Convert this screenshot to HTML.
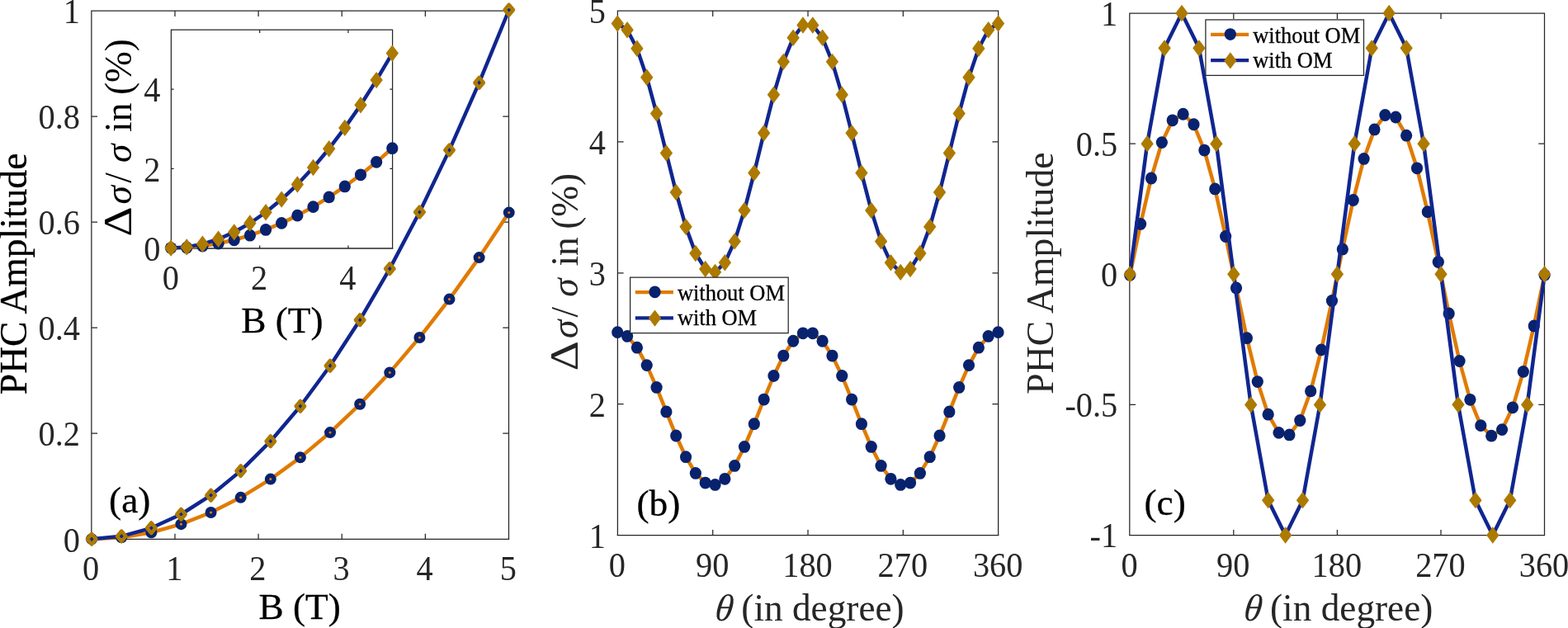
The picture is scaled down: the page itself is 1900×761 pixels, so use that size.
<!DOCTYPE html>
<html><head><meta charset="utf-8"><title>PHC Amplitude</title>
<style>
html,body{margin:0;padding:0;background:#fff;}
body{width:1900px;height:761px;overflow:hidden;}
svg{display:block;font-family:"Liberation Serif","DejaVu Serif",serif;}
</style></head><body>
<svg width="1900" height="761" viewBox="0 0 1900 761">
<rect width="1900" height="761" fill="#fff"/>
<path d="M110.85 12.38V654.02M616.5 12.38V654.02M110.22 13H617.12M211.98 653.4v-6.6M211.98 13v7M313.11 653.4v-6.6M313.11 13v7M414.24 653.4v-6.6M414.24 13v7M515.37 653.4v-6.6M515.37 13v7M110.85 525.24h7.2M616.5 525.24h-7.2M110.85 397.18h7.2M616.5 397.18h-7.2M110.85 269.12h7.2M616.5 269.12h-7.2M110.85 141.06h7.2M616.5 141.06h-7.2" fill="none" stroke="#262626" stroke-width="1.25"/>
<path d="M110.22 653.4H617.12" fill="none" stroke="#262626" stroke-width="1.25"/>
<polyline points="111.1,653.3 147.22,651.28 183.34,645.22 219.45,635.13 255.57,621 291.69,602.83 327.81,580.62 363.92,554.37 400.04,524.09 436.16,489.77 472.28,451.41 508.4,409.01 544.51,362.58 580.63,312.11 616.75,257.59" fill="none" stroke="#E07B00" stroke-width="4.5" stroke-linejoin="round" stroke-linecap="round"/>
<g fill="none" stroke="#08226E" stroke-width="5.4"><circle cx="111.1" cy="653.3" r="4.3"/><circle cx="147.22" cy="651.28" r="4.3"/><circle cx="183.34" cy="645.22" r="4.3"/><circle cx="219.45" cy="635.13" r="4.3"/><circle cx="255.57" cy="621" r="4.3"/><circle cx="291.69" cy="602.83" r="4.3"/><circle cx="327.81" cy="580.62" r="4.3"/><circle cx="363.92" cy="554.37" r="4.3"/><circle cx="400.04" cy="524.09" r="4.3"/><circle cx="436.16" cy="489.77" r="4.3"/><circle cx="472.28" cy="451.41" r="4.3"/><circle cx="508.4" cy="409.01" r="4.3"/><circle cx="544.51" cy="362.58" r="4.3"/><circle cx="580.63" cy="312.11" r="4.3"/><circle cx="616.75" cy="257.59" r="4.3"/></g>
<polyline points="111.1,653.3 147.22,649.82 183.34,639.8 219.45,623.26 255.57,600.17 291.69,570.63 327.81,534.69 363.92,492.22 400.04,443.22 436.16,387.69 472.28,325.62 508.4,257.01 544.51,181.88 580.63,100.2 616.75,12" fill="none" stroke="#10268F" stroke-width="4.5" stroke-linejoin="round" stroke-linecap="round"/>
<g fill="none" stroke="#AC7A00" stroke-width="4.5" stroke-linejoin="round"><path d="M111.1 647l5.25 6.3l-5.25 6.3l-5.25 -6.3z"/><path d="M147.22 643.52l5.25 6.3l-5.25 6.3l-5.25 -6.3z"/><path d="M183.34 633.5l5.25 6.3l-5.25 6.3l-5.25 -6.3z"/><path d="M219.45 616.96l5.25 6.3l-5.25 6.3l-5.25 -6.3z"/><path d="M255.57 593.87l5.25 6.3l-5.25 6.3l-5.25 -6.3z"/><path d="M291.69 564.33l5.25 6.3l-5.25 6.3l-5.25 -6.3z"/><path d="M327.81 528.39l5.25 6.3l-5.25 6.3l-5.25 -6.3z"/><path d="M363.92 485.92l5.25 6.3l-5.25 6.3l-5.25 -6.3z"/><path d="M400.04 436.92l5.25 6.3l-5.25 6.3l-5.25 -6.3z"/><path d="M436.16 381.39l5.25 6.3l-5.25 6.3l-5.25 -6.3z"/><path d="M472.28 319.32l5.25 6.3l-5.25 6.3l-5.25 -6.3z"/><path d="M508.4 250.71l5.25 6.3l-5.25 6.3l-5.25 -6.3z"/><path d="M544.51 175.58l5.25 6.3l-5.25 6.3l-5.25 -6.3z"/><path d="M580.63 93.9l5.25 6.3l-5.25 6.3l-5.25 -6.3z"/><path d="M616.75 5.7l5.25 6.3l-5.25 6.3l-5.25 -6.3z"/></g>
<text transform="translate(110.15 703.4) scale(0.96 1)" font-size="42" text-anchor="middle" fill="#262626">0</text>
<text transform="translate(211.28 703.4) scale(0.96 1)" font-size="42" text-anchor="middle" fill="#262626">1</text>
<text transform="translate(312.41 703.4) scale(0.96 1)" font-size="42" text-anchor="middle" fill="#262626">2</text>
<text transform="translate(413.54 703.4) scale(0.96 1)" font-size="42" text-anchor="middle" fill="#262626">3</text>
<text transform="translate(514.67 703.4) scale(0.96 1)" font-size="42" text-anchor="middle" fill="#262626">4</text>
<text transform="translate(615.8 703.4) scale(0.96 1)" font-size="42" text-anchor="middle" fill="#262626">5</text>
<text transform="translate(97 668.5) scale(0.96 1)" font-size="42" text-anchor="end" fill="#262626">0</text>
<text transform="translate(97 540.44) scale(0.96 1)" font-size="42" text-anchor="end" fill="#262626">0.2</text>
<text transform="translate(97 412.38) scale(0.96 1)" font-size="42" text-anchor="end" fill="#262626">0.4</text>
<text transform="translate(97 284.32) scale(0.96 1)" font-size="42" text-anchor="end" fill="#262626">0.6</text>
<text transform="translate(97 156.26) scale(0.96 1)" font-size="42" text-anchor="end" fill="#262626">0.8</text>
<text transform="translate(97 28.2) scale(0.96 1)" font-size="42" text-anchor="end" fill="#262626">1</text>
<text x="363.2" y="750.4" font-size="45.3" text-anchor="middle" fill="#000" stroke="#000" stroke-width="0.3">B (T)</text>
<text transform="translate(31.5 331.9) rotate(-90)" font-size="45.6" text-anchor="middle" fill="#000" stroke="#000" stroke-width="0.3">PHC Amplitude</text>
<text x="132.1" y="621.3" font-size="45.3" text-anchor="start" fill="#000" stroke="#000" stroke-width="0.3">(a)</text>
<path d="M207.4 35.48V301.62M475.6 35.48V301.62M206.78 36.1H476.23M314.68 301v-3.4M314.68 36.1v3.8M421.96 301v-3.4M421.96 36.1v3.8M207.4 204.47h3.2M475.6 204.47h-3.2M207.4 108.15h3.2M475.6 108.15h-3.2" fill="none" stroke="#262626" stroke-width="1.25"/>
<path d="M206.78 301H476.23" fill="none" stroke="#262626" stroke-width="1.6"/>
<polyline points="207.1,300.6 226.26,299.98 245.41,298.13 264.57,295.05 283.73,290.73 302.89,285.18 322.04,278.4 341.2,270.38 360.36,261.13 379.51,250.64 398.67,238.92 417.83,225.97 436.99,211.78 456.14,196.36 475.3,179.71" fill="none" stroke="#E07B00" stroke-width="4.5" stroke-linejoin="round" stroke-linecap="round"/>
<g fill="#08226E"><ellipse cx="207.1" cy="300.6" rx="7.1" ry="7.4"/><ellipse cx="226.26" cy="299.98" rx="7.1" ry="7.4"/><ellipse cx="245.41" cy="298.13" rx="7.1" ry="7.4"/><ellipse cx="264.57" cy="295.05" rx="7.1" ry="7.4"/><ellipse cx="283.73" cy="290.73" rx="7.1" ry="7.4"/><ellipse cx="302.89" cy="285.18" rx="7.1" ry="7.4"/><ellipse cx="322.04" cy="278.4" rx="7.1" ry="7.4"/><ellipse cx="341.2" cy="270.38" rx="7.1" ry="7.4"/><ellipse cx="360.36" cy="261.13" rx="7.1" ry="7.4"/><ellipse cx="379.51" cy="250.64" rx="7.1" ry="7.4"/><ellipse cx="398.67" cy="238.92" rx="7.1" ry="7.4"/><ellipse cx="417.83" cy="225.97" rx="7.1" ry="7.4"/><ellipse cx="436.99" cy="211.78" rx="7.1" ry="7.4"/><ellipse cx="456.14" cy="196.36" rx="7.1" ry="7.4"/><ellipse cx="475.3" cy="179.71" rx="7.1" ry="7.4"/></g>
<polyline points="207.1,300.6 226.26,299.4 245.41,295.78 264.57,289.76 283.73,281.33 302.89,270.5 322.04,257.25 341.2,241.6 360.36,223.54 379.51,203.07 398.67,180.19 417.83,154.9 436.99,127.21 456.14,97.11 475.3,64.6" fill="none" stroke="#10268F" stroke-width="4.5" stroke-linejoin="round" stroke-linecap="round"/>
<g fill="#AC7A00"><path d="M207.1 290.4l7.7 10.2l-7.7 10.2l-7.7 -10.2z"/><path d="M226.26 289.2l7.7 10.2l-7.7 10.2l-7.7 -10.2z"/><path d="M245.41 285.58l7.7 10.2l-7.7 10.2l-7.7 -10.2z"/><path d="M264.57 279.56l7.7 10.2l-7.7 10.2l-7.7 -10.2z"/><path d="M283.73 271.13l7.7 10.2l-7.7 10.2l-7.7 -10.2z"/><path d="M302.89 260.3l7.7 10.2l-7.7 10.2l-7.7 -10.2z"/><path d="M322.04 247.05l7.7 10.2l-7.7 10.2l-7.7 -10.2z"/><path d="M341.2 231.4l7.7 10.2l-7.7 10.2l-7.7 -10.2z"/><path d="M360.36 213.34l7.7 10.2l-7.7 10.2l-7.7 -10.2z"/><path d="M379.51 192.87l7.7 10.2l-7.7 10.2l-7.7 -10.2z"/><path d="M398.67 169.99l7.7 10.2l-7.7 10.2l-7.7 -10.2z"/><path d="M417.83 144.7l7.7 10.2l-7.7 10.2l-7.7 -10.2z"/><path d="M436.99 117.01l7.7 10.2l-7.7 10.2l-7.7 -10.2z"/><path d="M456.14 86.91l7.7 10.2l-7.7 10.2l-7.7 -10.2z"/><path d="M475.3 54.4l7.7 10.2l-7.7 10.2l-7.7 -10.2z"/></g>
<text transform="translate(206.8 351.3) scale(0.96 1)" font-size="42" text-anchor="middle" fill="#262626">0</text>
<text transform="translate(194.5 316) scale(0.96 1)" font-size="42" text-anchor="end" fill="#262626">0</text>
<text transform="translate(314.08 351.3) scale(0.96 1)" font-size="42" text-anchor="middle" fill="#262626">2</text>
<text transform="translate(194.5 219.67) scale(0.96 1)" font-size="42" text-anchor="end" fill="#262626">2</text>
<text transform="translate(421.36 351.3) scale(0.96 1)" font-size="42" text-anchor="middle" fill="#262626">4</text>
<text transform="translate(194.5 123.35) scale(0.96 1)" font-size="42" text-anchor="end" fill="#262626">4</text>
<text x="341.9" y="403.3" font-size="45.3" text-anchor="middle" fill="#000" stroke="#000" stroke-width="0.3">B (T)</text>
<g transform="translate(159.2 284.9) rotate(-90) scale(1 1.04)" font-size="45.3" fill="#000"><text transform="translate(-1.9 0) scale(1.227 1)" font-size="46">Δ</text><text x="37.5" y="0" font-style="italic">σ</text><text x="63.2" y="0">/</text><text x="87.85" y="0" font-style="italic">σ</text><text x="125" y="0">in</text><text x="237.7" y="0" text-anchor="end">(%)</text></g>
<path d="M748.4 12.38V649.12M1209.65 12.38V649.12M747.77 13H1210.28M863.71 648.5v-6.6M863.71 13v7M979.02 648.5v-6.6M979.02 13v7M1094.34 648.5v-6.6M1094.34 13v7M748.4 489.62h7.2M1209.65 489.62h-7.2M748.4 330.75h7.2M1209.65 330.75h-7.2M748.4 171.88h7.2M1209.65 171.88h-7.2" fill="none" stroke="#262626" stroke-width="1.25"/>
<path d="M747.77 648.5H1210.28" fill="none" stroke="#262626" stroke-width="1.25"/>
<polyline points="748.25,402.64 760.08,407.4 771.9,421.2 783.73,442.61 795.56,469.44 807.38,498.91 819.21,528 831.04,553.71 842.87,573.4 854.69,585.04 866.52,587.43 878.35,580.32 890.17,564.45 902,541.46 913.83,513.69 925.65,484.03 937.48,455.51 949.31,431.07 961.13,413.24 972.96,403.84 984.79,403.84 996.62,413.24 1008.44,431.07 1020.27,455.51 1032.1,484.03 1043.92,513.69 1055.75,541.46 1067.58,564.45 1079.4,580.32 1091.23,587.43 1103.06,585.04 1114.88,573.4 1126.71,553.71 1138.54,528 1150.37,498.91 1162.19,469.44 1174.02,442.61 1185.85,421.2 1197.67,407.4 1209.5,402.64" fill="none" stroke="#E07B00" stroke-width="4.5" stroke-linejoin="round" stroke-linecap="round"/>
<g fill="#08226E"><ellipse cx="748.25" cy="402.64" rx="7.1" ry="7.4"/><ellipse cx="760.08" cy="407.4" rx="7.1" ry="7.4"/><ellipse cx="771.9" cy="421.2" rx="7.1" ry="7.4"/><ellipse cx="783.73" cy="442.61" rx="7.1" ry="7.4"/><ellipse cx="795.56" cy="469.44" rx="7.1" ry="7.4"/><ellipse cx="807.38" cy="498.91" rx="7.1" ry="7.4"/><ellipse cx="819.21" cy="528" rx="7.1" ry="7.4"/><ellipse cx="831.04" cy="553.71" rx="7.1" ry="7.4"/><ellipse cx="842.87" cy="573.4" rx="7.1" ry="7.4"/><ellipse cx="854.69" cy="585.04" rx="7.1" ry="7.4"/><ellipse cx="866.52" cy="587.43" rx="7.1" ry="7.4"/><ellipse cx="878.35" cy="580.32" rx="7.1" ry="7.4"/><ellipse cx="890.17" cy="564.45" rx="7.1" ry="7.4"/><ellipse cx="902" cy="541.46" rx="7.1" ry="7.4"/><ellipse cx="913.83" cy="513.69" rx="7.1" ry="7.4"/><ellipse cx="925.65" cy="484.03" rx="7.1" ry="7.4"/><ellipse cx="937.48" cy="455.51" rx="7.1" ry="7.4"/><ellipse cx="949.31" cy="431.07" rx="7.1" ry="7.4"/><ellipse cx="961.13" cy="413.24" rx="7.1" ry="7.4"/><ellipse cx="972.96" cy="403.84" rx="7.1" ry="7.4"/><ellipse cx="984.79" cy="403.84" rx="7.1" ry="7.4"/><ellipse cx="996.62" cy="413.24" rx="7.1" ry="7.4"/><ellipse cx="1008.44" cy="431.07" rx="7.1" ry="7.4"/><ellipse cx="1020.27" cy="455.51" rx="7.1" ry="7.4"/><ellipse cx="1032.1" cy="484.03" rx="7.1" ry="7.4"/><ellipse cx="1043.92" cy="513.69" rx="7.1" ry="7.4"/><ellipse cx="1055.75" cy="541.46" rx="7.1" ry="7.4"/><ellipse cx="1067.58" cy="564.45" rx="7.1" ry="7.4"/><ellipse cx="1079.4" cy="580.32" rx="7.1" ry="7.4"/><ellipse cx="1091.23" cy="587.43" rx="7.1" ry="7.4"/><ellipse cx="1103.06" cy="585.04" rx="7.1" ry="7.4"/><ellipse cx="1114.88" cy="573.4" rx="7.1" ry="7.4"/><ellipse cx="1126.71" cy="553.71" rx="7.1" ry="7.4"/><ellipse cx="1138.54" cy="528" rx="7.1" ry="7.4"/><ellipse cx="1150.37" cy="498.91" rx="7.1" ry="7.4"/><ellipse cx="1162.19" cy="469.44" rx="7.1" ry="7.4"/><ellipse cx="1174.02" cy="442.61" rx="7.1" ry="7.4"/><ellipse cx="1185.85" cy="421.2" rx="7.1" ry="7.4"/><ellipse cx="1197.67" cy="407.4" rx="7.1" ry="7.4"/><ellipse cx="1209.5" cy="402.64" rx="7.1" ry="7.4"/></g>
<polyline points="748.25,28.49 760.08,36.25 771.9,58.76 783.73,93.68 795.56,137.43 807.38,185.5 819.21,232.94 831.04,274.87 842.87,306.98 854.69,325.96 866.52,329.86 878.35,318.27 890.17,292.39 902,254.88 913.83,209.61 925.65,161.23 937.48,114.72 949.31,74.86 961.13,45.78 972.96,30.44 984.79,30.44 996.62,45.78 1008.44,74.86 1020.27,114.72 1032.1,161.23 1043.92,209.61 1055.75,254.88 1067.58,292.39 1079.4,318.27 1091.23,329.86 1103.06,325.96 1114.88,306.98 1126.71,274.87 1138.54,232.94 1150.37,185.5 1162.19,137.43 1174.02,93.68 1185.85,58.76 1197.67,36.25 1209.5,28.49" fill="none" stroke="#10268F" stroke-width="4.5" stroke-linejoin="round" stroke-linecap="round"/>
<g fill="#AC7A00"><path d="M748.25 18.29l7.7 10.2l-7.7 10.2l-7.7 -10.2z"/><path d="M760.08 26.05l7.7 10.2l-7.7 10.2l-7.7 -10.2z"/><path d="M771.9 48.56l7.7 10.2l-7.7 10.2l-7.7 -10.2z"/><path d="M783.73 83.48l7.7 10.2l-7.7 10.2l-7.7 -10.2z"/><path d="M795.56 127.23l7.7 10.2l-7.7 10.2l-7.7 -10.2z"/><path d="M807.38 175.3l7.7 10.2l-7.7 10.2l-7.7 -10.2z"/><path d="M819.21 222.74l7.7 10.2l-7.7 10.2l-7.7 -10.2z"/><path d="M831.04 264.67l7.7 10.2l-7.7 10.2l-7.7 -10.2z"/><path d="M842.87 296.78l7.7 10.2l-7.7 10.2l-7.7 -10.2z"/><path d="M854.69 315.76l7.7 10.2l-7.7 10.2l-7.7 -10.2z"/><path d="M866.52 319.66l7.7 10.2l-7.7 10.2l-7.7 -10.2z"/><path d="M878.35 308.07l7.7 10.2l-7.7 10.2l-7.7 -10.2z"/><path d="M890.17 282.19l7.7 10.2l-7.7 10.2l-7.7 -10.2z"/><path d="M902 244.68l7.7 10.2l-7.7 10.2l-7.7 -10.2z"/><path d="M913.83 199.41l7.7 10.2l-7.7 10.2l-7.7 -10.2z"/><path d="M925.65 151.03l7.7 10.2l-7.7 10.2l-7.7 -10.2z"/><path d="M937.48 104.52l7.7 10.2l-7.7 10.2l-7.7 -10.2z"/><path d="M949.31 64.66l7.7 10.2l-7.7 10.2l-7.7 -10.2z"/><path d="M961.13 35.58l7.7 10.2l-7.7 10.2l-7.7 -10.2z"/><path d="M972.96 20.24l7.7 10.2l-7.7 10.2l-7.7 -10.2z"/><path d="M984.79 20.24l7.7 10.2l-7.7 10.2l-7.7 -10.2z"/><path d="M996.62 35.58l7.7 10.2l-7.7 10.2l-7.7 -10.2z"/><path d="M1008.44 64.66l7.7 10.2l-7.7 10.2l-7.7 -10.2z"/><path d="M1020.27 104.52l7.7 10.2l-7.7 10.2l-7.7 -10.2z"/><path d="M1032.1 151.03l7.7 10.2l-7.7 10.2l-7.7 -10.2z"/><path d="M1043.92 199.41l7.7 10.2l-7.7 10.2l-7.7 -10.2z"/><path d="M1055.75 244.68l7.7 10.2l-7.7 10.2l-7.7 -10.2z"/><path d="M1067.58 282.19l7.7 10.2l-7.7 10.2l-7.7 -10.2z"/><path d="M1079.4 308.07l7.7 10.2l-7.7 10.2l-7.7 -10.2z"/><path d="M1091.23 319.66l7.7 10.2l-7.7 10.2l-7.7 -10.2z"/><path d="M1103.06 315.76l7.7 10.2l-7.7 10.2l-7.7 -10.2z"/><path d="M1114.88 296.78l7.7 10.2l-7.7 10.2l-7.7 -10.2z"/><path d="M1126.71 264.67l7.7 10.2l-7.7 10.2l-7.7 -10.2z"/><path d="M1138.54 222.74l7.7 10.2l-7.7 10.2l-7.7 -10.2z"/><path d="M1150.37 175.3l7.7 10.2l-7.7 10.2l-7.7 -10.2z"/><path d="M1162.19 127.23l7.7 10.2l-7.7 10.2l-7.7 -10.2z"/><path d="M1174.02 83.48l7.7 10.2l-7.7 10.2l-7.7 -10.2z"/><path d="M1185.85 48.56l7.7 10.2l-7.7 10.2l-7.7 -10.2z"/><path d="M1197.67 26.05l7.7 10.2l-7.7 10.2l-7.7 -10.2z"/><path d="M1209.5 18.29l7.7 10.2l-7.7 10.2l-7.7 -10.2z"/></g>
<text transform="translate(747.9 699.3) scale(0.96 1)" font-size="42" text-anchor="middle" fill="#262626">0</text>
<text transform="translate(863.21 699.3) scale(0.96 1)" font-size="42" text-anchor="middle" fill="#262626">90</text>
<text transform="translate(978.52 699.3) scale(0.96 1)" font-size="42" text-anchor="middle" fill="#262626">180</text>
<text transform="translate(1093.84 699.3) scale(0.96 1)" font-size="42" text-anchor="middle" fill="#262626">270</text>
<text transform="translate(1209.15 699.3) scale(0.96 1)" font-size="42" text-anchor="middle" fill="#262626">360</text>
<text transform="translate(734 663.7) scale(0.96 1)" font-size="42" text-anchor="end" fill="#262626">1</text>
<text transform="translate(734 504.82) scale(0.96 1)" font-size="42" text-anchor="end" fill="#262626">2</text>
<text transform="translate(734 345.95) scale(0.96 1)" font-size="42" text-anchor="end" fill="#262626">3</text>
<text transform="translate(734 187.07) scale(0.96 1)" font-size="42" text-anchor="end" fill="#262626">4</text>
<text transform="translate(734 28.2) scale(0.96 1)" font-size="42" text-anchor="end" fill="#262626">5</text>
<g transform="translate(0 752) scale(1 1.03) translate(0 -752)" font-size="45.3" fill="#262626"><text transform="translate(865.2 752) skewX(-7)" font-style="italic" font-size="44.5">θ</text><text x="1095.7" y="752" text-anchor="end">(in degree)</text></g>
<g transform="translate(699.6 447.6) rotate(-90) scale(1 1.04)" font-size="45.3" fill="#262626"><text transform="translate(-1.9 0) scale(1.227 1)" font-size="46">Δ</text><text x="37.5" y="0" font-style="italic">σ</text><text x="63.2" y="0">/</text><text x="87.85" y="0" font-style="italic">σ</text><text x="125" y="0">in</text><text x="237.7" y="0" text-anchor="end">(%)</text></g>
<text x="771.5" y="625.2" font-size="45.3" text-anchor="start" fill="#000" stroke="#000" stroke-width="0.3">(b)</text>
<rect x="763.6" y="336.15" width="191.6" height="67.45" fill="#fff" stroke="#262626" stroke-width="1.25"/>
<path d="M769.8 354.15h46.1" stroke="#E07B00" stroke-width="4.3"/>
<g fill="#08226E"><ellipse cx="793.5" cy="353.8" rx="7.1" ry="7.4"/></g>
<path d="M769.8 385.3h46.1" stroke="#10268F" stroke-width="4.3"/>
<g fill="#AC7A00"><path d="M793.5 375.4l7.7 10.2l-7.7 10.2l-7.7 -10.2z"/></g>
<text x="820.9" y="363.7" font-size="26.45" text-anchor="start" fill="#000" stroke="#000" stroke-width="0.3">without OM</text>
<text x="820.9" y="394.1" font-size="26.45" text-anchor="start" fill="#000" stroke="#000" stroke-width="0.3">with OM</text>
<path d="M1368.8 15.38V649.12M1871.5 15.38V649.12M1368.17 16H1872.12M1494.8 648.5v-6.6M1494.8 16v7M1620.4 648.5v-6.6M1620.4 16v7M1746 648.5v-6.6M1746 16v7M1368.8 490.38h7.2M1871.5 490.38h-7.2M1368.8 332.25h7.2M1871.5 332.25h-7.2M1368.8 174.12h7.2M1871.5 174.12h-7.2" fill="none" stroke="#262626" stroke-width="1.25"/>
<path d="M1368.17 648.5H1872.12" fill="none" stroke="#262626" stroke-width="1.25"/>
<polyline points="1369.2,333.2 1382.08,271.41 1394.96,215.98 1407.85,172.61 1420.73,145.78 1433.61,138.23 1446.49,150.75 1459.37,182.05 1472.26,228.91 1485.14,286.5 1498.02,348.9 1510.9,409.68 1523.78,462.59 1536.67,502.18 1549.55,524.38 1562.43,526.9 1575.31,509.49 1588.19,473.92 1601.08,423.88 1613.96,364.5 1626.84,301.9 1639.72,242.52 1652.61,192.47 1665.49,156.91 1678.37,139.5 1691.25,142.02 1704.13,164.21 1717.02,203.81 1729.9,256.72 1742.78,317.5 1755.66,379.9 1768.54,437.49 1781.43,484.34 1794.31,515.64 1807.19,528.17 1820.07,520.62 1832.95,493.78 1845.84,450.42 1858.72,394.99 1871.6,333.2" fill="none" stroke="#E07B00" stroke-width="4.5" stroke-linejoin="round" stroke-linecap="round"/>
<g fill="#08226E"><ellipse cx="1369.2" cy="333.2" rx="7.1" ry="7.4"/><ellipse cx="1382.08" cy="271.41" rx="7.1" ry="7.4"/><ellipse cx="1394.96" cy="215.98" rx="7.1" ry="7.4"/><ellipse cx="1407.85" cy="172.61" rx="7.1" ry="7.4"/><ellipse cx="1420.73" cy="145.78" rx="7.1" ry="7.4"/><ellipse cx="1433.61" cy="138.23" rx="7.1" ry="7.4"/><ellipse cx="1446.49" cy="150.75" rx="7.1" ry="7.4"/><ellipse cx="1459.37" cy="182.05" rx="7.1" ry="7.4"/><ellipse cx="1472.26" cy="228.91" rx="7.1" ry="7.4"/><ellipse cx="1485.14" cy="286.5" rx="7.1" ry="7.4"/><ellipse cx="1498.02" cy="348.9" rx="7.1" ry="7.4"/><ellipse cx="1510.9" cy="409.68" rx="7.1" ry="7.4"/><ellipse cx="1523.78" cy="462.59" rx="7.1" ry="7.4"/><ellipse cx="1536.67" cy="502.18" rx="7.1" ry="7.4"/><ellipse cx="1549.55" cy="524.38" rx="7.1" ry="7.4"/><ellipse cx="1562.43" cy="526.9" rx="7.1" ry="7.4"/><ellipse cx="1575.31" cy="509.49" rx="7.1" ry="7.4"/><ellipse cx="1588.19" cy="473.92" rx="7.1" ry="7.4"/><ellipse cx="1601.08" cy="423.88" rx="7.1" ry="7.4"/><ellipse cx="1613.96" cy="364.5" rx="7.1" ry="7.4"/><ellipse cx="1626.84" cy="301.9" rx="7.1" ry="7.4"/><ellipse cx="1639.72" cy="242.52" rx="7.1" ry="7.4"/><ellipse cx="1652.61" cy="192.47" rx="7.1" ry="7.4"/><ellipse cx="1665.49" cy="156.91" rx="7.1" ry="7.4"/><ellipse cx="1678.37" cy="139.5" rx="7.1" ry="7.4"/><ellipse cx="1691.25" cy="142.02" rx="7.1" ry="7.4"/><ellipse cx="1704.13" cy="164.21" rx="7.1" ry="7.4"/><ellipse cx="1717.02" cy="203.81" rx="7.1" ry="7.4"/><ellipse cx="1729.9" cy="256.72" rx="7.1" ry="7.4"/><ellipse cx="1742.78" cy="317.5" rx="7.1" ry="7.4"/><ellipse cx="1755.66" cy="379.9" rx="7.1" ry="7.4"/><ellipse cx="1768.54" cy="437.49" rx="7.1" ry="7.4"/><ellipse cx="1781.43" cy="484.34" rx="7.1" ry="7.4"/><ellipse cx="1794.31" cy="515.64" rx="7.1" ry="7.4"/><ellipse cx="1807.19" cy="528.17" rx="7.1" ry="7.4"/><ellipse cx="1820.07" cy="520.62" rx="7.1" ry="7.4"/><ellipse cx="1832.95" cy="493.78" rx="7.1" ry="7.4"/><ellipse cx="1845.84" cy="450.42" rx="7.1" ry="7.4"/><ellipse cx="1858.72" cy="394.99" rx="7.1" ry="7.4"/><ellipse cx="1871.6" cy="333.2" rx="7.1" ry="7.4"/></g>
<polyline points="1369.2,332.25 1390.13,174.12 1411.07,58.37 1432,16 1452.93,58.37 1473.87,174.12 1494.8,332.25 1515.73,490.38 1536.67,606.13 1557.6,648.5 1578.53,606.13 1599.47,490.38 1620.4,332.25 1641.33,174.12 1662.27,58.37 1683.2,16 1704.13,58.37 1725.07,174.13 1746,332.25 1766.93,490.37 1787.87,606.13 1808.8,648.5 1829.73,606.13 1850.67,490.38 1871.6,332.25" fill="none" stroke="#10268F" stroke-width="4.5" stroke-linejoin="round" stroke-linecap="round"/>
<g fill="#AC7A00"><path d="M1369.2 322.05l7.7 10.2l-7.7 10.2l-7.7 -10.2z"/><path d="M1390.13 163.93l7.7 10.2l-7.7 10.2l-7.7 -10.2z"/><path d="M1411.07 48.17l7.7 10.2l-7.7 10.2l-7.7 -10.2z"/><path d="M1432 5.8l7.7 10.2l-7.7 10.2l-7.7 -10.2z"/><path d="M1452.93 48.17l7.7 10.2l-7.7 10.2l-7.7 -10.2z"/><path d="M1473.87 163.93l7.7 10.2l-7.7 10.2l-7.7 -10.2z"/><path d="M1494.8 322.05l7.7 10.2l-7.7 10.2l-7.7 -10.2z"/><path d="M1515.73 480.18l7.7 10.2l-7.7 10.2l-7.7 -10.2z"/><path d="M1536.67 595.93l7.7 10.2l-7.7 10.2l-7.7 -10.2z"/><path d="M1557.6 638.3l7.7 10.2l-7.7 10.2l-7.7 -10.2z"/><path d="M1578.53 595.93l7.7 10.2l-7.7 10.2l-7.7 -10.2z"/><path d="M1599.47 480.18l7.7 10.2l-7.7 10.2l-7.7 -10.2z"/><path d="M1620.4 322.05l7.7 10.2l-7.7 10.2l-7.7 -10.2z"/><path d="M1641.33 163.93l7.7 10.2l-7.7 10.2l-7.7 -10.2z"/><path d="M1662.27 48.17l7.7 10.2l-7.7 10.2l-7.7 -10.2z"/><path d="M1683.2 5.8l7.7 10.2l-7.7 10.2l-7.7 -10.2z"/><path d="M1704.13 48.17l7.7 10.2l-7.7 10.2l-7.7 -10.2z"/><path d="M1725.07 163.93l7.7 10.2l-7.7 10.2l-7.7 -10.2z"/><path d="M1746 322.05l7.7 10.2l-7.7 10.2l-7.7 -10.2z"/><path d="M1766.93 480.17l7.7 10.2l-7.7 10.2l-7.7 -10.2z"/><path d="M1787.87 595.93l7.7 10.2l-7.7 10.2l-7.7 -10.2z"/><path d="M1808.8 638.3l7.7 10.2l-7.7 10.2l-7.7 -10.2z"/><path d="M1829.73 595.93l7.7 10.2l-7.7 10.2l-7.7 -10.2z"/><path d="M1850.67 480.18l7.7 10.2l-7.7 10.2l-7.7 -10.2z"/><path d="M1871.6 322.05l7.7 10.2l-7.7 10.2l-7.7 -10.2z"/></g>
<text transform="translate(1368.6 699.3) scale(0.96 1)" font-size="42" text-anchor="middle" fill="#262626">0</text>
<text transform="translate(1494.2 699.3) scale(0.96 1)" font-size="42" text-anchor="middle" fill="#262626">90</text>
<text transform="translate(1619.8 699.3) scale(0.96 1)" font-size="42" text-anchor="middle" fill="#262626">180</text>
<text transform="translate(1745.4 699.3) scale(0.96 1)" font-size="42" text-anchor="middle" fill="#262626">270</text>
<text transform="translate(1871 699.3) scale(0.96 1)" font-size="42" text-anchor="middle" fill="#262626">360</text>
<text transform="translate(1354.2 663) scale(0.96 1)" font-size="42" text-anchor="end" fill="#262626">-1</text>
<text transform="translate(1354.2 504.88) scale(0.96 1)" font-size="42" text-anchor="end" fill="#262626">-0.5</text>
<text transform="translate(1354.2 346.75) scale(0.96 1)" font-size="42" text-anchor="end" fill="#262626">0</text>
<text transform="translate(1354.2 188.62) scale(0.96 1)" font-size="42" text-anchor="end" fill="#262626">0.5</text>
<text transform="translate(1354.2 30.5) scale(0.96 1)" font-size="42" text-anchor="end" fill="#262626">1</text>
<g transform="translate(0 752) scale(1 1.03) translate(0 -752)" font-size="45.3" fill="#262626"><text transform="translate(1505.9 752) skewX(-7)" font-style="italic" font-size="44.5">θ</text><text x="1736.4" y="752" text-anchor="end">(in degree)</text></g>
<text transform="translate(1275.8 331.1) rotate(-90)" font-size="45.7" text-anchor="middle" fill="#262626">PHC Amplitude</text>
<text x="1386.5" y="623.5" font-size="45.3" text-anchor="start" fill="#000" stroke="#000" stroke-width="0.3">(c)</text>
<rect x="1460.9" y="23.95" width="191.6" height="67.45" fill="#fff" stroke="#262626" stroke-width="1.25"/>
<path d="M1467.1 41.95h46.1" stroke="#E07B00" stroke-width="4.3"/>
<g fill="#08226E"><ellipse cx="1490.8" cy="41.6" rx="7.1" ry="7.4"/></g>
<path d="M1467.1 73.1h46.1" stroke="#10268F" stroke-width="4.3"/>
<g fill="#AC7A00"><path d="M1490.8 63.2l7.7 10.2l-7.7 10.2l-7.7 -10.2z"/></g>
<text x="1518.2" y="51.5" font-size="26.45" text-anchor="start" fill="#000" stroke="#000" stroke-width="0.3">without OM</text>
<text x="1518.2" y="81.9" font-size="26.45" text-anchor="start" fill="#000" stroke="#000" stroke-width="0.3">with OM</text>
</svg>
</body></html>
